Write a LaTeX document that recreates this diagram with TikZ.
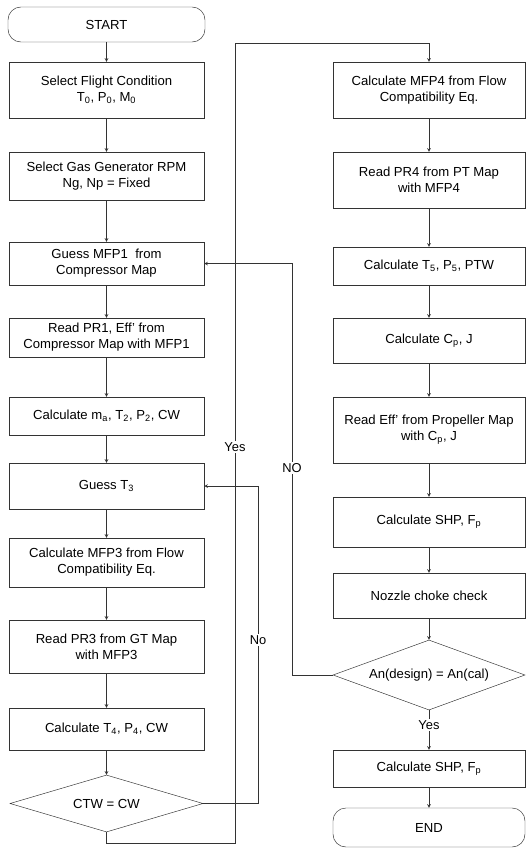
\documentclass[tikz,border=0pt]{standalone}
\usepackage{fontspec}
\setmainfont{Liberation Sans}
\usetikzlibrary{shapes.geometric}
\tikzset{
    box/.style={draw=black!80, align=center, inner sep=1pt, font=\fontsize{11.2}{13.5}\selectfont},
    lbox/.style={box, minimum width=5.85cm},
    rbox/.style={box, minimum width=5.76cm},
    term/.style={box, rounded corners=11pt},
    decision/.style={box, shape=diamond, inner sep=0pt},
    flow/.style={draw=black!80, ->, >=stealth},
    tag/.style={fill=white, inner sep=1pt, font=\fontsize{11}{13}\selectfont}
}
\begin{document}
\begin{tikzpicture}[x=0.03cm, y=-0.03cm]
        \useasboundingbox (0,0) rectangle (529,854);

        \node[term, minimum width=5.91cm, minimum height=1.05cm] (start) at (106.5,24.5) {START};
        \node[lbox, minimum height=1.68cm] (b1) at (106.5,90) {Select Flight Condition\\T\textsubscript{0}, P\textsubscript{0}, M\textsubscript{0}};
        \node[lbox, minimum height=1.44cm] (b2) at (106.5,176) {Select Gas Generator RPM\\Ng, Np = Fixed};
        \node[lbox, minimum height=1.29cm] (b3) at (106.5,263.5) {Guess MFP1 \ from\\Compressor Map};
        \node[lbox, minimum height=1.17cm] (b4) at (106.5,337.5) {Read PR1, Eff' from\\Compressor Map with MFP1};
        \node[lbox, minimum height=1.14cm] (b5) at (106.5,416) {Calculate m\textsubscript{a}, T\textsubscript{2}, P\textsubscript{2}, CW};
        \node[lbox, minimum height=1.38cm] (b6) at (106.5,486) {Guess T\textsubscript{3}};
        \node[lbox, minimum height=1.47cm] (b7) at (106.5,562.5) {Calculate MFP3 from Flow\\Compatibility Eq.};
        \node[lbox, minimum height=1.59cm] (b8) at (106.5,646.5) {Read PR3 from GT Map\\with MFP3};
        \node[lbox, minimum height=1.26cm] (b9) at (106.5,729) {Calculate T\textsubscript{4}, P\textsubscript{4}, CW};
        \node[decision, minimum width=5.79cm, minimum height=1.71cm, aspect=3.4] (d1) at (106.5,803.5) {CTW = CW};

        \node[rbox, minimum height=1.68cm] (r1) at (429,90) {Calculate MFP4 from Flow\\Compatibility Eq.};
        \node[rbox, minimum height=1.68cm] (r2) at (429,180) {Read PR4 from PT Map\\with MFP4};
        \node[rbox, minimum height=1.14cm] (r3) at (429,266) {Calculate T\textsubscript{5}, P\textsubscript{5}, PTW};
        \node[rbox, minimum height=1.35cm] (r4) at (429,340.5) {Calculate C\textsubscript{p}, J};
        \node[rbox, minimum height=1.98cm] (r5) at (429,430) {Read Eff' from Propeller Map\\with C\textsubscript{p}, J};
        \node[rbox, minimum height=1.5cm] (r6) at (429,522) {Calculate SHP, F\textsubscript{p}};
        \node[rbox, minimum height=1.35cm] (r7) at (429,595.5) {Nozzle choke check};
        \node[decision, minimum width=5.76cm, minimum height=2.1cm, aspect=2.75] (d2) at (429,675) {An(design) = An(cal)};
        \node[rbox, minimum height=1.11cm] (r8) at (429,768.5) {Calculate SHP, F\textsubscript{p}};
        \node[term, minimum width=5.76cm, minimum height=1.17cm] (end) at (429,827.5) {END};

        \foreach \a/\b in {start/b1, b1/b2, b2/b3, b3/b4, b4/b5, b5/b6, b6/b7, b7/b8, b8/b9, b9/d1,
                           r1/r2, r2/r3, r3/r4, r4/r5, r5/r6, r6/r7, r7/d2, r8/end}
            \draw[flow] (\a.south) -- (\b.north);

        \coordinate (yesbot) at (235,843);
        \coordinate (yestop) at (235,43);
        \draw[flow] (d1.south) |- (yesbot) -- (yestop) -| (r1.north);
        \node[tag] (yesl) at (235,447) {Yes};

        \coordinate (nobot) at (258,803.5);
        \draw[flow] (d1.east) -- (nobot) |- (b6.east);
        \node[tag] (nol) at (258,640) {No};

        \coordinate (NObot) at (292,675);
        \draw[flow] (d2.west) -- (NObot) |- (b3.east);
        \node[tag] (NOl) at (292,468) {NO};

        \draw[flow] (d2.south) -- (r8.north);
        \node[tag] (yesr) at (429,725) {Yes};
    \end{tikzpicture}
\end{document}
